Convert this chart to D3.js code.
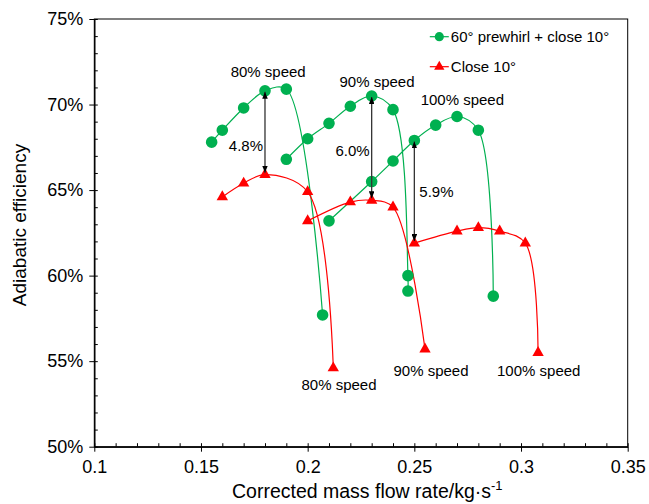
<!DOCTYPE html>
<html>
<head>
<meta charset="utf-8">
<script src="https://cdn.jsdelivr.net/npm/d3@7"></script>
<style>
  body { margin: 0; background: #fff; }
  svg text { font-family: "Liberation Sans", Arial, sans-serif; fill: #000; }
</style>
</head>
<body>
<svg id="chart" width="649" height="504"></svg>
<script>
// 60° prewhirl + close 10° (green circles)
var greenFlow80 = [0.155, 0.160, 0.170, 0.180, 0.190, 0.207],
  greenEff80 = [67.8, 68.5, 69.8, 70.8, 70.9, 57.7],
  greenFlow90 = [0.190, 0.200, 0.210, 0.220, 0.230, 0.240, 0.247, 0.247],
  greenEff90 = [66.8, 68.0, 68.9, 69.9, 70.5, 69.7, 60.0, 59.1],
  greenFlow100 = [0.210, 0.230, 0.240, 0.250, 0.260, 0.270, 0.280, 0.287],
  greenEff100 = [63.2, 65.5, 66.7, 67.9, 68.8, 69.3, 68.5, 58.8];

// Close 10° (red triangles)
var redFlow80 = [0.160, 0.170, 0.180, 0.200, 0.212],
  redEff80 = [64.6, 65.4, 65.9, 64.9, 54.6],
  redFlow90 = [0.200, 0.220, 0.230, 0.240, 0.255],
  redEff90 = [63.2, 64.3, 64.4, 64.0, 55.7],
  redFlow100 = [0.250, 0.270, 0.280, 0.290, 0.302, 0.308],
  redEff100 = [61.9, 62.6, 62.8, 62.6, 61.9, 55.5];

// efficiency gain arrows
var gainFlow = [0.18, 0.23, 0.25],
  gainTop = [70.8, 70.5, 67.9],
  gainBottom = [65.9, 64.4, 61.9],
  gainText = ['4.8%', '6.0%', '5.9%'],
  gainTextEff = [67.6, 67.3, 64.9];

// speed line labels
var speedText = ['80% speed', '90% speed', '100% speed', '80% speed', '90% speed', '100% speed'],
  speedFlow = [0.1815, 0.2325, 0.2725, 0.2147, 0.2578, 0.3083],
  speedEff = [71.6, 71.0, 70.0, 53.3, 54.15, 54.15];

// axes
var xTicks = [0.1, 0.15, 0.2, 0.25, 0.3, 0.35],
  yTicks = [50, 55, 60, 65, 70, 75];

var legendText = ['60° prewhirl + close 10°', 'Close 10°'];

var green = '#00b050',
  red = '#ff0000';

var width = 649,
  height = 504,
  margin = { top: 19, right: 21.3, bottom: 57.3, left: 94.3 },
  innerW = width - margin.left - margin.right,
  innerH = height - margin.top - margin.bottom;

function zip(xs, ys) {
  return xs.map(function(x, i) {
    return [x, ys[i]];
  });
}

var series = [
  { color: green, shape: 'circle', points: zip(greenFlow80, greenEff80) },
  { color: green, shape: 'circle', points: zip(greenFlow90, greenEff90) },
  { color: green, shape: 'circle', points: zip(greenFlow100, greenEff100) },
  { color: red, shape: 'triangle', points: zip(redFlow80, redEff80) },
  { color: red, shape: 'triangle', points: zip(redFlow90, redEff90) },
  { color: red, shape: 'triangle', points: zip(redFlow100, redEff100) }
];

var xScale = d3.scaleLinear().domain([0.1, 0.35]).range([0, innerW]),
  yScale = d3.scaleLinear().domain([50, 75]).range([innerH, 0]);

var svg = d3.select('#chart');

svg.append('defs')
  .append('marker')
  .attr('id', 'head')
  .attr('viewBox', '0 0 10 8')
  .attr('refX', 10)
  .attr('refY', 4)
  .attr('markerUnits', 'userSpaceOnUse')
  .attr('markerWidth', 7)
  .attr('markerHeight', 5.6)
  .attr('orient', 'auto-start-reverse')
  .append('path')
  .attr('d', 'M0,0L10,4L0,8Z')
  .attr('fill', '#000');

var g = svg.append('g')
  .attr('transform', 'translate(' + margin.left + ',' + margin.top + ')');

// minor ticks point inwards, major ticks outwards with labels
var xMinor = d3.range(10, 36).map(function(d) { return d / 100; }),
  yMinor = d3.range(50, 76);

g.append('g')
  .attr('class', 'x axis minor')
  .attr('transform', 'translate(0,' + innerH + ')')
  .call(d3.axisBottom(xScale).tickValues(xMinor).tickSize(-3.5).tickSizeOuter(0).tickFormat(''));

g.append('g')
  .attr('class', 'y axis minor')
  .call(d3.axisLeft(yScale).tickValues(yMinor).tickSize(-3.5).tickSizeOuter(0).tickFormat(''));

g.append('g')
  .attr('class', 'x axis')
  .attr('transform', 'translate(0,' + innerH + ')')
  .call(d3.axisBottom(xScale).tickValues(xTicks).tickSize(5).tickSizeOuter(0)
    .tickPadding(9).tickFormat(d3.format('~g')));

g.append('g')
  .attr('class', 'y axis')
  .call(d3.axisLeft(yScale).tickValues(yTicks).tickSize(5).tickSizeOuter(0)
    .tickPadding(6).tickFormat(function(d) { return d + '%'; }));

g.selectAll('.axis text').style('font-size', '18px').attr('fill', '#000');
g.selectAll('.axis line, .axis path').attr('stroke', '#000');

// frame
g.append('rect')
  .attr('width', innerW)
  .attr('height', innerH)
  .attr('fill', 'none')
  .attr('stroke', '#000')
  .attr('stroke-width', 1);

// axis titles
var xTitle = g.append('text')
  .attr('x', 232 - margin.left)
  .attr('y', innerH + 51)
  .style('font-size', '19.5px')
  .text('Corrected mass flow rate/kg·s');
xTitle.append('tspan')
  .attr('dy', -8)
  .style('font-size', '13px')
  .text('-1');

g.append('text')
  .attr('transform', 'translate(' + (26 - margin.left) + ',' + (225 - margin.top) + ') rotate(-90)')
  .attr('text-anchor', 'middle')
  .style('font-size', '19px')
  .text('Adiabatic efficiency');

// lines
var line = d3.line()
  .x(function(d) { return xScale(d[0]); })
  .y(function(d) { return yScale(d[1]); })
  .curve(d3.curveCatmullRom.alpha(0.5));

g.selectAll('.curve')
  .data(series)
  .enter()
  .append('path')
  .attr('class', 'curve')
  .attr('fill', 'none')
  .attr('stroke', function(d) { return d.color; })
  .attr('stroke-width', 1.2)
  .attr('d', function(d) { return line(d.points); });

// markers
var triangle = d3.symbol().type(d3.symbolTriangle).size(56),
  circle = d3.symbol().type(d3.symbolCircle).size(106);

series.forEach(function(s) {
  g.append('g')
    .selectAll('path')
    .data(s.points)
    .enter()
    .append('path')
    .attr('transform', function(d) {
      return 'translate(' + xScale(d[0]) + ',' + yScale(d[1]) + ')';
    })
    .attr('d', s.shape === 'circle' ? circle : triangle)
    .attr('fill', s.color);
});

// gain arrows
gainFlow.forEach(function(f, i) {
  g.append('line')
    .attr('x1', xScale(f))
    .attr('x2', xScale(f))
    .attr('y1', yScale(gainTop[i]) + 1)
    .attr('y2', yScale(gainBottom[i]) - 2)
    .attr('stroke', '#333')
    .attr('stroke-width', 1.3)
    .attr('marker-start', 'url(#head)')
    .attr('marker-end', 'url(#head)');

  var right = i === 2;
  g.append('text')
    .attr('x', xScale(f) + (right ? 5 : -2))
    .attr('y', yScale(gainTextEff[i]))
    .attr('dy', '0.35em')
    .attr('text-anchor', right ? 'start' : 'end')
    .style('font-size', '15px')
    .text(gainText[i]);
});

// speed labels
g.selectAll('.speed')
  .data(speedText)
  .enter()
  .append('text')
  .attr('class', 'speed')
  .attr('x', function(d, i) { return xScale(speedFlow[i]); })
  .attr('y', function(d, i) { return yScale(speedEff[i]); })
  .attr('text-anchor', 'middle')
  .style('font-size', '15px')
  .text(function(d) { return d; });

// legend
var legend = g.selectAll('.legend')
  .data(legendText)
  .enter()
  .append('g')
  .attr('class', 'legend')
  .attr('transform', function(d, i) {
    return 'translate(' + (345 - 9.5) + ',' + (17.7 + i * 30) + ')';
  });

legend.append('line')
  .attr('x1', 0)
  .attr('x2', 19)
  .attr('stroke', function(d, i) { return i ? red : green; })
  .attr('stroke-width', 1.2);

legend.append('path')
  .attr('transform', 'translate(9.5,0)')
  .attr('d', function(d, i) {
    return i ? d3.symbol().type(d3.symbolTriangle).size(46)() : d3.symbol().type(d3.symbolCircle).size(66)();
  })
  .attr('fill', function(d, i) { return i ? red : green; });

legend.append('text')
  .attr('x', 21)
  .attr('y', 5.5)
  .style('font-size', '15px')
  .text(function(d) { return d; });
</script>
</body>
</html>
